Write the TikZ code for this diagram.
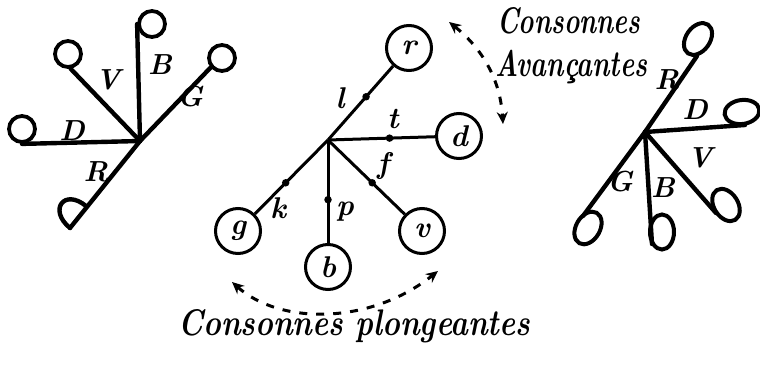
\documentclass[tikz,border=0pt]{standalone}
\usetikzlibrary{arrows.meta,shapes.geometric,calc}
\begin{document}
\begin{tikzpicture}[x=1pt,y=-1pt,
  stk/.style={line width=4.4pt,line cap=round},
  mstk/.style={line width=3pt},
  loopc/.style={circle,draw,line width=3.8pt,minimum size=26pt,inner sep=0pt},
  loope/.style={ellipse,draw,line width=4pt,minimum width=35pt,minimum height=24pt,inner sep=0pt},
  mc/.style={circle,draw,line width=3pt,minimum size=45pt,inner sep=0pt,font=\fontsize{30}{30}\selectfont\bfseries\itshape},
  tk/.style={circle,fill,inner sep=0pt,minimum size=7.5pt},
  lb/.style={font=\fontsize{29}{29}\selectfont\bfseries\itshape,inner sep=0pt},
  sl/.style={font=\fontsize{30}{30}\selectfont\bfseries\itshape,inner sep=0pt},
  ttl/.style={font=\fontsize{37}{37}\selectfont\bfseries\itshape,inner sep=0pt,anchor=base west},
  dar/.style={line width=3pt,dash pattern=on 8pt off 9pt,{Stealth[length=12pt,width=11pt]}-{Stealth[length=12pt,width=11pt]}}
]
\useasboundingbox (0,0) rectangle (760,364);

% ---------- left figure ----------
\coordinate (L) at (140,141);
\node[loopc] (LD) at (22,129) {};
\node[loopc] (LV) at (68,54) {};
\node[loopc] (LB) at (152,24) {};
\node[loopc] (LG) at (222,58) {};
\coordinate (LRa) at (86,206);
\coordinate (LRe) at (70,228);
\draw[stk] (L) -- (LRe);
\draw[stk] (LRa) .. controls (64,188) and (48,210) .. (LRe);
\draw[stk] (L) -- (LD.south);
\draw[stk] (L) -- (LV.-80);
\draw[stk] (L) -- (LB.west);
\draw[stk] (L) -- (LG.-140);
\node[lb] (lV) at (108,80) {V};
\node[lb] (lB) at (160,65) {B};
\node[lb] (lG) at (190,97) {G};
\node[lb] (lD) at (72,131) {D};
\node[lb] (lR) at (96,172) {R};

% ---------- middle figure ----------
\coordinate (M) at (328,140);
\node[mc] (r) at (409,48) {r};
\node[mc] (d) at (459,136) {d};
\node[mc] (v) at (422,231) {v};
\node[mc] (b) at (328,267) {b};
\node[mc] (g) at (238,231) {g};
\foreach \n in {r,d,v,b,g} {
  \draw[mstk] (M) -- (\n);
  \node[tk] (t\n) at ($(M)!0.47!(\n)$) {};
}
\node[sl] (ll) at (340,98) {l};
\node[sl] (lt) at (393,119) {t};
\node[sl] (lf) at (383,166) {f};
\node[sl] (lp) at (345,212) {p};
\node[sl] (lk) at (278,208) {k};

% ---------- right figure ----------
\coordinate (Rc) at (645,132);
\node[loope,rotate=55] (RR) at (698,39) {};
\node[loope,rotate=8] (RD) at (742,112) {};
\node[loope,rotate=-58] (RV) at (726,205) {};
\node[loope,rotate=90] (RB) at (662,232) {};
\node[loope,rotate=60] (RG) at (588,228) {};
\coordinate (RRe) at (697,56);
\coordinate (RDe) at (745,125);
\coordinate (RVe) at (716,213);
\coordinate (RBe) at (652,244);
\coordinate (RGe) at (583,216);
\draw[stk] (Rc) -- (RRe);
\draw[stk] (Rc) -- (RDe);
\draw[stk] (Rc) -- (RVe);
\draw[stk] (Rc) -- (RBe);
\draw[stk] (Rc) -- (RGe);
\node[lb] (rR) at (667,80) {R};
\node[lb] (rD) at (695,110) {D};
\node[lb] (rV) at (700,158) {V};
\node[lb] (rB) at (663,188) {B};
\node[lb] (rG) at (620,182) {G};

% ---------- titles and dashed arrows ----------
\node[ttl] (t1) at (497,33) {\resizebox{143pt}{\height}{Consonnes}};
\node[ttl] (t2) at (495,76) {\resizebox{152pt}{\height}{Avançantes}};
\node[ttl] (t3) at (178,335) {\resizebox{352pt}{\height}{Consonnes plongeantes}};
\coordinate (ua1) at (449,22);
\coordinate (ua2) at (503,124);
\draw[dar] (ua1) .. controls (478,45) and (500,75) .. (ua2);
\coordinate (ba1) at (232,282);
\coordinate (ba2) at (438,271);
\draw[dar] (ba1) .. controls (280,325) and (370,325) .. (ba2);
\end{tikzpicture}
\end{document}
